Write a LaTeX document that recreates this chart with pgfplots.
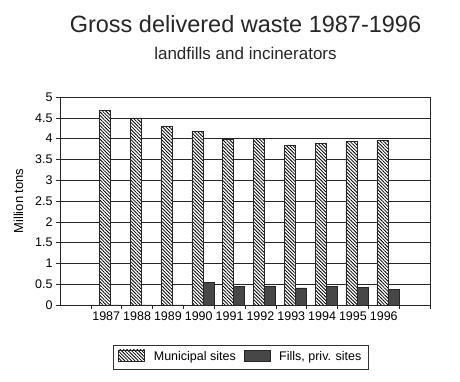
\documentclass[border=0pt]{standalone}
\usepackage{fontspec}
\setmainfont{Liberation Sans}
\usepackage{pgfplots}
\pgfplotsset{compat=1.18}
\usetikzlibrary{patterns.meta}
\pgfplotsset{boxlegend/.style={legend image code/.code={\draw[##1] (0pt,-4pt) rectangle (26pt,7pt);}}}
\begin{document}
\begin{tikzpicture}[x=1pt,y=1pt]
\useasboundingbox (0,0) rectangle (460,382);
\begin{axis}[
  at={(60pt,77pt)}, anchor=south west,
  width=370pt, height=208pt, scale only axis,
  xmin=-0.5, xmax=11.5, ymin=0, ymax=5,
  ybar, bar width=11pt,
  xtick={1,2,3,4,5,6,7,8,9,10},
  xticklabels={1987,1988,1989,1990,1991,1992,1993,1994,1995,1996},
  major x tick style={draw=none},
  minor xtick={0.5,1.5,2.5,3.5,4.5,5.5,6.5,7.5,8.5,9.5,10.5,11.5},
  minor tick length=4pt,
  ytick={0,0.5,1,1.5,2,2.5,3,3.5,4,4.5,5},
  major tick length=4pt,
  tick align=outside, tick pos=left,
  ymajorgrids, grid style={black!85, line width=0.5pt},
  axis line style={black!85, line width=0.6pt},
  tick style={black!85, line width=0.6pt},
  /pgf/number format/assume math mode=true,
  ticklabel style={font=\fontsize{12.5}{15}\selectfont},
  xticklabel style={yshift=1pt},
  ylabel={Million tons},
  ylabel style={font=\fontsize{13}{15}\selectfont, at={(rel axis cs:0,0.5)}, anchor=center, yshift=41.5pt},
  legend columns=2,
  legend style={at={(0.489,-0.25)}, anchor=center, draw=black!80,
    font=\fontsize{12.5}{15}\selectfont, inner xsep=5pt, inner ysep=5pt,
    /tikz/every odd column/.append style={column sep=7pt},
    /tikz/every even column/.append style={column sep=6pt}},
  legend cell align=left,
]
\addplot[bar shift=-1.5pt, draw=black!85, fill=white,
  postaction={pattern={Lines[angle=-45,distance=2.4pt,line width=0.8pt]}}, boxlegend]
  coordinates {(1,4.68)(2,4.50)(3,4.29)(4,4.17)(5,3.98)(6,4.00)(7,3.84)(8,3.89)(9,3.93)(10,3.96)};
\addlegendentry{Municipal sites}
\addplot[bar shift=9.5pt, draw=black!85, fill=black!72, boxlegend]
  coordinates {(1,0)(2,0)(3,0)(4,0.55)(5,0.45)(6,0.46)(7,0.41)(8,0.44)(9,0.42)(10,0.38)};
\addlegendentry{Fills, priv. sites}
\end{axis}
\node[anchor=base, text=black!85, font=\fontsize{23.5}{28}\selectfont] at (245.5,349) {Gross delivered waste 1987-1996};
\node[anchor=base, text=black!85, font=\fontsize{17}{20}\selectfont] at (245.5,322) {landfills and incinerators};
\end{tikzpicture}
\end{document}
